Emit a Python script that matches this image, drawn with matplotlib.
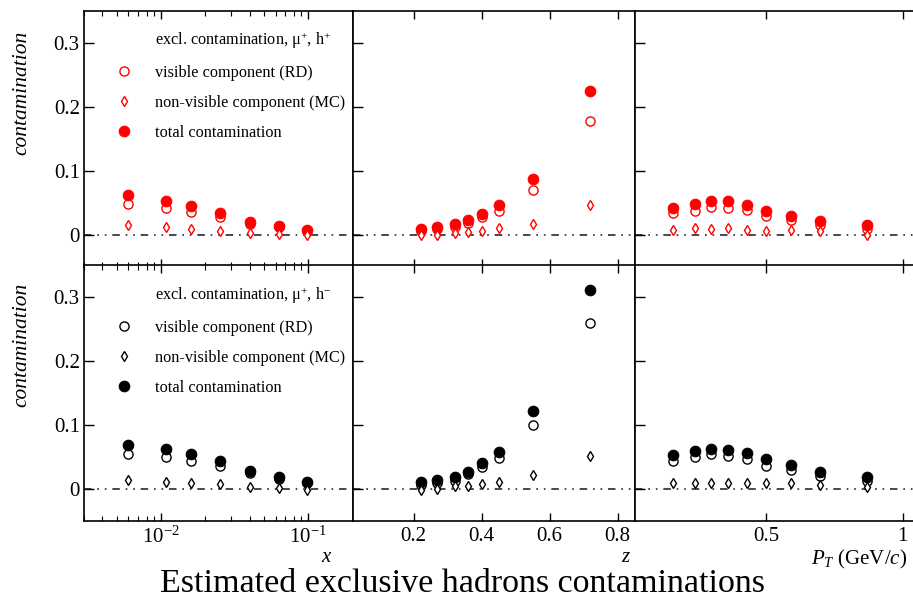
import matplotlib
matplotlib.use('Agg')
import matplotlib.pyplot as plt
from matplotlib.lines import Line2D
from matplotlib.ticker import FixedLocator, NullFormatter, FixedFormatter, LogLocator

plt.rcParams['font.family'] = ['Liberation Serif', 'DejaVu Serif']
plt.rcParams['mathtext.fontset'] = 'custom'
plt.rcParams['mathtext.rm'] = 'Liberation Serif'
plt.rcParams['mathtext.it'] = 'Liberation Serif:italic'
plt.rcParams['mathtext.bf'] = 'Liberation Serif:bold'

# ---------------- data ----------------
x_bins = [0.0060, 0.0109, 0.0159, 0.0252, 0.0403, 0.0635, 0.0989]
z_bins = [0.221, 0.270, 0.321, 0.361, 0.401, 0.450, 0.550, 0.720]
pt_bins = [0.161, 0.240, 0.300, 0.360, 0.430, 0.499, 0.590, 0.699, 0.869]

# mu+, h+
hp_x_vis = [0.047, 0.041, 0.035, 0.027, 0.017, 0.011, 0.006]
hp_x_mc = [0.015, 0.011, 0.009, 0.006, 0.003, 0.001, -0.001]
hp_x_tot = [0.062, 0.052, 0.045, 0.033, 0.020, 0.013, 0.007]

hp_z_vis = [0.006, 0.009, 0.012, 0.018, 0.027, 0.036, 0.069, 0.178]
hp_z_mc = [-0.001, 0.000, 0.002, 0.004, 0.006, 0.0095, 0.017, 0.0465]
hp_z_tot = [0.008, 0.012, 0.016, 0.022, 0.032, 0.046, 0.087, 0.225]

hp_pt_vis = [0.033, 0.0375, 0.043, 0.041, 0.038, 0.029, 0.022, 0.015, 0.008]
hp_pt_mc = [0.007, 0.0095, 0.008, 0.010, 0.007, 0.006, 0.007, 0.005, 0.000]
hp_pt_tot = [0.0415, 0.047, 0.052, 0.052, 0.0465, 0.036, 0.029, 0.0215, 0.0145]

# mu+, h-
hm_x_vis = [0.055, 0.050, 0.044, 0.037, 0.025, 0.016, 0.009]
hm_x_mc = [0.0145, 0.011, 0.0098, 0.0088, 0.004, 0.002, -0.001]
hm_x_tot = [0.069, 0.0625, 0.055, 0.044, 0.0285, 0.0195, 0.012]

hm_z_vis = [0.007, 0.010, 0.013, 0.023, 0.034, 0.048, 0.1005, 0.259]
hm_z_mc = [-0.001, 0.001, 0.0047, 0.0047, 0.008, 0.011, 0.022, 0.0515]
hm_z_tot = [0.011, 0.015, 0.019, 0.0265, 0.041, 0.058, 0.122, 0.3105]

hm_pt_vis = [0.044, 0.051, 0.0545, 0.052, 0.047, 0.037, 0.030, 0.020, 0.0135]
hm_pt_mc = [0.0104, 0.0104, 0.0104, 0.0104, 0.0104, 0.0094, 0.0094, 0.0068, 0.0042]
hm_pt_tot = [0.0535, 0.060, 0.063, 0.061, 0.057, 0.047, 0.038, 0.027, 0.0197]

legend_titles = [r'excl. contamination, μ$^{+}$, h$^{+}$',
                 r'excl. contamination, μ$^{+}$, h$^{-}$']
legend_labels = ['visible component (RD)', 'non-visible component (MC)',
                 'total contamination']
row_colors = ['#ff0000', '#000000']

y_ticks = [0, 0.1, 0.2, 0.3]
y_ticklabels = ['0', '0.1', '0.2', '0.3']
z_ticks = [0.2, 0.4, 0.6, 0.8]
z_ticklabels = ['0.2', '0.4', '0.6', '0.8']
pt_ticks = [0.5, 1.0]
pt_ticklabels = ['0.5', '1']
x_ticks = [0.01, 0.1]
x_ticklabels = [r'$10^{-2}$', r'$10^{-1}$']

# ---------------- figure ----------------
W, H = 913, 602
fig = plt.figure(figsize=(W / 100, H / 100), dpi=100)

col_edges = [84, 352.5, 634.5, 913.5]
row_bottoms = [266.5, 521.2]   # pixel y of axes bottom
row_h = 256

xlims = [(0.003, 0.2), (0.02, 0.85), (0.019, 1.0395)]
bins = [x_bins, z_bins, pt_bins]
data = [
    [(hp_x_vis, hp_x_mc, hp_x_tot), (hp_z_vis, hp_z_mc, hp_z_tot), (hp_pt_vis, hp_pt_mc, hp_pt_tot)],
    [(hm_x_vis, hm_x_mc, hm_x_tot), (hm_z_vis, hm_z_mc, hm_z_tot), (hm_pt_vis, hm_pt_mc, hm_pt_tot)],
]

zero_ls = (0, (4.5, 3.5, 1.0, 3.5, 1.0, 3.5))
ms_open, ms_full, ms_dia = 6.6, 7.6, 5.6

for r in range(2):
    color = row_colors[r]
    for c in range(3):
        left = col_edges[c] / W
        width = (col_edges[c + 1] - col_edges[c]) / W
        bottom = (H - row_bottoms[r]) / H
        ax = fig.add_axes([left, bottom, width, row_h / H])
        vis, mc, tot = data[r][c]
        xb = bins[c]
        ax.axhline(0, color='#2a2a2a', lw=1.2, ls=zero_ls, zorder=1)
        ax.plot(xb, vis, ls='none', marker='o', ms=ms_open, mfc='white', mec=color, mew=1.0, zorder=3)
        ax.plot(xb, tot, ls='none', marker='o', ms=ms_full, mfc=color, mec=color, mew=0.8, zorder=4)
        ax.plot(xb, mc, ls='none', marker='d', ms=ms_dia, mfc='white', mec=color, mew=1.0, zorder=5)

        if c == 0:
            ax.set_xscale('log')
        ax.set_xlim(*xlims[c])
        ax.set_ylim(-0.05, 0.35)
        ax.yaxis.set_major_locator(FixedLocator(y_ticks))
        if c == 0:
            ax.yaxis.set_major_formatter(FixedFormatter(y_ticklabels))
        else:
            ax.yaxis.set_major_formatter(NullFormatter())
        if c == 0:
            ax.xaxis.set_major_locator(FixedLocator(x_ticks))
            ax.xaxis.set_minor_locator(LogLocator(base=10, subs=[2, 3, 4, 5, 6, 7, 8, 9], numticks=20))
            ax.xaxis.set_major_formatter(FixedFormatter(x_ticklabels))
            ax.xaxis.set_minor_formatter(NullFormatter())
        elif c == 1:
            ax.xaxis.set_major_locator(FixedLocator(z_ticks))
            ax.xaxis.set_major_formatter(FixedFormatter(z_ticklabels))
        else:
            ax.xaxis.set_major_locator(FixedLocator(pt_ticks))
            ax.xaxis.set_major_formatter(FixedFormatter(pt_ticklabels))
        if r == 0:
            ax.xaxis.set_major_formatter(NullFormatter())

        ax.tick_params(axis='both', which='both', direction='in', top=True, right=False,
                       colors='black', labelsize=15)
        ax.tick_params(axis='y', which='major', length=7, width=1.0, pad=3)
        ax.tick_params(axis='x', which='major', length=6, width=1.0, pad=4)
        ax.tick_params(axis='x', which='minor', length=3.5, width=0.8)
        for sp in ax.spines.values():
            sp.set_linewidth(1.2)
            sp.set_color('black')

        if c == 0:
            handles = [Line2D([], [], ls='none', marker=''),
                       Line2D([], [], ls='none', marker='o', ms=ms_open, mfc='white', mec=color, mew=1.0),
                       Line2D([], [], ls='none', marker='d', ms=ms_dia, mfc='white', mec=color, mew=1.0),
                       Line2D([], [], ls='none', marker='o', ms=ms_full, mfc=color, mec=color, mew=0.8)]
            labels = [legend_titles[r]] + legend_labels
            ax.legend(handles, labels, loc='upper left', bbox_to_anchor=(0.119, 0.922),
                      frameon=False, fontsize=11.7, handlelength=1.0, handletextpad=1.41,
                      labelspacing=0.86, borderpad=0, borderaxespad=0, numpoints=1)

# y labels
fig.text(22 / W, 1 - 92.5 / H, 'contamination', rotation=90, style='italic',
         fontsize=15.5, ha='center', va='center')
fig.text(22 / W, 1 - 345 / H, 'contamination', rotation=90, style='italic',
         fontsize=15.5, ha='center', va='center')

# x labels
fig.text(326 / W, 1 - 557 / H, 'x', style='italic', fontsize=15, ha='center', va='center')
fig.text(625 / W, 1 - 557 / H, 'z', style='italic', fontsize=15, ha='center', va='center')
fig.text(907 / W, 1 - 559 / H, r'$P_T$ (GeV/$c$)', fontsize=15, ha='right', va='center')

# caption
fig.text(462 / W, 1 - 584 / H, 'Estimated exclusive hadrons contaminations',
         fontsize=24.5, ha='center', va='center')

fig.savefig('out.png', dpi=100)
